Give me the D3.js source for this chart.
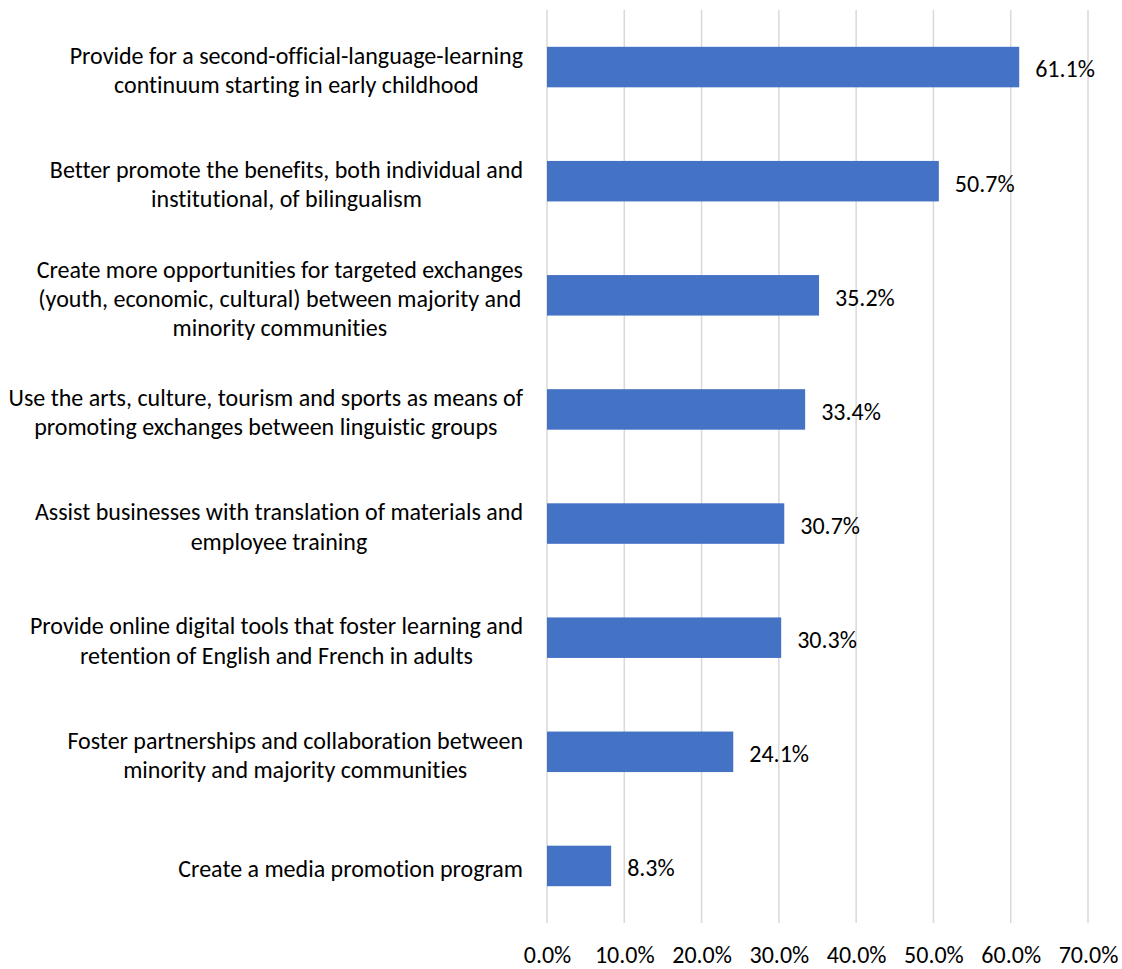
<!DOCTYPE html>
<html>
<head>
<meta charset="utf-8">
<script src="https://cdn.jsdelivr.net/npm/d3@7"></script>
<style>
  html, body { margin: 0; padding: 0; background: #ffffff; }
  svg text { font-family: Carlito, Calibri, "Open Sans", sans-serif; fill: #000; font-variant-ligatures: none; }
</style>
</head>
<body>
<svg id="chart" width="1122" height="969"></svg>
<script>
// Survey responses: share of respondents choosing each measure
const categories = [
  ["Provide for a second-official-language-learning", "continuum starting in early childhood"],
  ["Better promote the benefits, both individual and", "institutional, of bilingualism"],
  ["Create more opportunities for targeted exchanges", "(youth, economic, cultural) between majority and", "minority communities"],
  ["Use the arts, culture, tourism and sports as means of", "promoting exchanges between linguistic groups"],
  ["Assist businesses with translation of materials and", "employee training"],
  ["Provide online digital tools that foster learning and", "retention of English and French in adults"],
  ["Foster partnerships and collaboration between", "minority and majority communities"],
  ["Create a media promotion program"]
];
const values = [61.1, 50.7, 35.2, 33.4, 30.7, 30.3, 24.1, 8.3];
const xTicks = [0, 10, 20, 30, 40, 50, 60, 70];

const svg = d3.select("#chart");
const margin = { top: 10, right: 34, bottom: 46, left: 547 };
const W = 1122, H = 969;
const fontSize = 24;
const lineH = 29.2;

const x = d3.scaleLinear().domain([0, 70]).range([margin.left, W - margin.right]);
const y = d3.scaleBand()
  .domain(d3.range(categories.length))
  .range([margin.top, H - margin.bottom])
  .paddingInner(0.645)
  .paddingOuter(0.3225);

// vertical gridlines
svg.append("g")
  .selectAll("line")
  .data(xTicks)
  .join("line")
  .attr("x1", d => x(d)).attr("x2", d => x(d))
  .attr("y1", margin.top).attr("y2", H - margin.bottom)
  .attr("stroke", "#d9d9d9")
  .attr("stroke-width", 1.5);

// bars
svg.append("g")
  .selectAll("rect")
  .data(values)
  .join("rect")
  .attr("x", x(0))
  .attr("y", (d, i) => y(i))
  .attr("width", d => x(d) - x(0))
  .attr("height", y.bandwidth())
  .attr("fill", "#4472c4");

// value labels
svg.append("g")
  .selectAll("text")
  .data(values)
  .join("text")
  .attr("x", d => x(d) + 16)
  .attr("y", (d, i) => y(i) + y.bandwidth() / 2 + 2)
  .attr("dy", "0.35em")
  .style("font-size", fontSize + "px")
  .text(d => d.toFixed(1) + "%");

// x axis tick labels
const xAxis = d3.axisBottom(x)
  .tickValues(xTicks)
  .tickFormat(d => d.toFixed(1) + "%")
  .tickSize(0)
  .tickPadding(0);
const axisG = svg.append("g")
  .attr("transform", `translate(0, ${H - margin.bottom + 32})`)
  .call(xAxis);
axisG.select(".domain").remove();
axisG.selectAll("text")
  .style("font-size", fontSize + "px")
  .style("font-family", null)
  .attr("dy", "0.35em")
  .attr("y", 0);

// category labels: centred lines, block right-aligned to the plot
const labelRight = 523;
const catG = svg.append("g");
categories.forEach((lines, i) => {
  const cy = y(i) + y.bandwidth() / 2 + 3;
  const t = catG.append("text")
    .style("font-size", fontSize + "px")
    .attr("text-anchor", "middle");
  const spans = lines.map((ln, k) =>
    t.append("tspan")
      .attr("y", cy + (k - (lines.length - 1) / 2) * lineH)
      .attr("dy", "0.35em")
      .text(ln));
  const maxW = d3.max(spans, s => s.node().getComputedTextLength());
  spans.forEach(s => s.attr("x", labelRight - maxW / 2));
});
</script>
</body>
</html>
